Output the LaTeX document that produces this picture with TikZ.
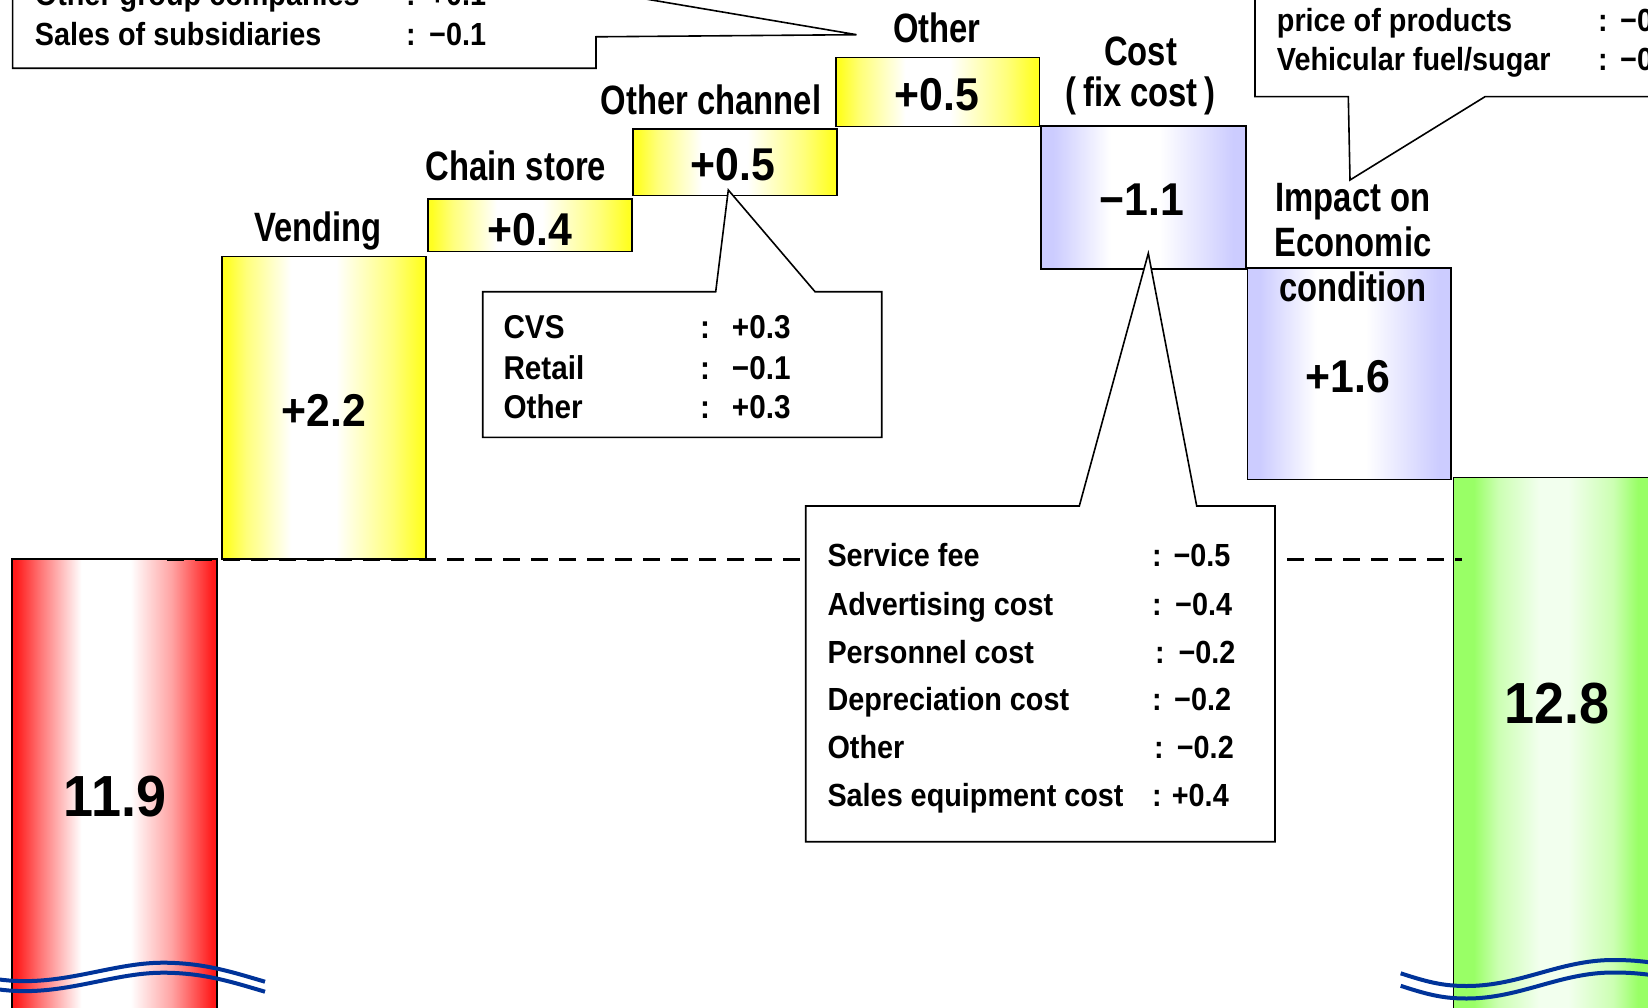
\documentclass[tikz,border=0pt]{standalone}
\usepackage{fontspec}
\setmainfont{Liberation Sans}
\newfontfamily\lblf{Liberation Sans}[FakeStretch=0.80]
\newfontfamily\numf{Liberation Sans}[FakeStretch=0.93]
\newfontfamily\calf{Liberation Sans}[FakeStretch=0.90]
\definecolor{ybar}{HTML}{FFFF22}
\definecolor{rbar}{HTML}{FF1A1A}
\definecolor{bbar}{HTML}{CCCCFF}
\definecolor{gbar}{HTML}{99FF66}
\definecolor{gmid}{HTML}{F2FFEE}
\definecolor{wavec}{HTML}{003399}
\pgfdeclarehorizontalshading{yshade}{100bp}{color(0bp)=(ybar); color(26bp)=(ybar); color(31bp)=(ybar!60!white); color(42bp)=(white); color(53bp)=(white); color(67bp)=(ybar!60!white); color(74bp)=(ybar); color(100bp)=(ybar)}
\pgfdeclarehorizontalshading{rshade}{100bp}{color(0bp)=(rbar); color(26bp)=(rbar); color(32bp)=(rbar!60!white); color(42bp)=(white); color(54bp)=(white); color(64bp)=(rbar!40!white); color(74bp)=(rbar); color(100bp)=(rbar)}
\pgfdeclarehorizontalshading{bshade}{100bp}{color(0bp)=(bbar); color(28bp)=(bbar); color(42bp)=(white); color(54bp)=(white); color(72bp)=(bbar); color(100bp)=(bbar)}
\pgfdeclarehorizontalshading{gshade}{100bp}{color(0bp)=(gbar); color(30bp)=(gbar); color(36bp)=(gbar!50!white); color(46bp)=(gmid); color(53bp)=(gmid); color(64bp)=(gbar!50!white); color(70bp)=(gbar); color(100bp)=(gbar)}
\tikzset{
  bar/.style={draw=black, line width=1.6pt, rectangle, inner sep=0pt, outer sep=0pt, anchor=north west, shade},
  lbl/.style={font=\lblf\bfseries\fontsize{41}{41}\selectfont, anchor=base, inner sep=0pt},
  num/.style={font=\numf\bfseries\fontsize{46}{46}\selectfont, inner sep=0pt},
  big/.style={font=\numf\bfseries\fontsize{58}{58}\selectfont, anchor=base, inner sep=0pt},
  ctxt/.style={font=\calf\bfseries\fontsize{32}{32}\selectfont, anchor=base west, inner sep=0pt},
  ctxtb/.style={font=\calf\bfseries\fontsize{33}{33}\selectfont, anchor=base west, inner sep=0pt},
  callout/.style={draw=black, line width=1.6pt, fill=white, line join=miter},
  baseline dash/.style={draw=black, line width=3pt, dash pattern=on 17pt off 11pt},
  wavy/.style={draw=wavec, line width=4pt}
}
\begin{document}
\begin{tikzpicture}[x=1pt,y=-1pt]
\useasboundingbox (0,0) rectangle (1648,1008);
\clip (0,0) rectangle (1648,1008);
\fill[white] (0,0) rectangle (1648,1008);

% bars
\node[bar, shading=rshade, minimum width=205pt, minimum height=480pt] (red) at (11.7,559) {};
\node[bar, shading=yshade, minimum width=204pt, minimum height=302.3pt] (vend) at (221.7,256.7) {};
\node[bar, shading=yshade, minimum width=204.3pt, minimum height=52.7pt] (chain) at (427.7,199) {};
\node[bar, shading=yshade, minimum width=204pt, minimum height=66.7pt] (och) at (632.7,129) {};
\node[bar, shading=yshade, minimum width=203.3pt, minimum height=69pt] (oth) at (836.2,57.7) {};
\node[bar, shading=bshade, minimum width=204.7pt, minimum height=143.5pt] (cost) at (1041,125.8) {};
\node[bar, shading=bshade, minimum width=203.7pt, minimum height=211pt] (imp) at (1247.3,268.3) {};
\node[bar, shading=gshade, minimum width=205pt, minimum height=560pt] (green) at (1453.3,477.5) {};

% bar values
\node[num] (nvend) at (323.7,410.7) {+2.2};
\node[num] (nchain) at (530,230) {+0.4};
\node[num] (noch) at (733,165) {+0.5};
\node[num] (noth) at (937,95) {+0.5};
\node[num] (ncost) at (1142,200) {−1.1};
\node[num] (nimp) at (1348,376.7) {+1.6};
\node[big] (nred) at (115,816) {11.9};
\node[big] (ngreen) at (1556.7,723.3) {12.8};

% bar labels
\node[lbl] (lvend) at (318,241.7) {Vending};
\node[lbl] (lchain) at (516,181) {Chain store};
\node[lbl] (loch) at (711,115) {Other channel};
\node[lbl] (loth) at (937,43) {Other};
\node[lbl] (lcost) at (1140.5,66) {Cost};
\node[lbl] (lfix) at (1140.5,107) {(\hspace{7pt}fix cost\hspace{7pt})};
\node[lbl] (limp1) at (1353,211.7) {Impact on};
\node[lbl] (limp2) at (1353,256.7) {Economic};
\node[lbl] (limp3) at (1353,301.7) {condition};

% dashed reference line
\coordinate (dl) at (167,559);
\coordinate (dr) at (1462,559);
\draw[baseline dash] (dl) -- (dr);

% callouts
\draw[callout] (482.7,291.7) -- (715.7,291.7) -- (728.3,190) -- (815,291.7) -- (881.7,291.7) -- (881.7,437.3) -- (482.7,437.3) -- cycle;
\draw[callout] (805.7,506) -- (1079.3,506) -- (1148.3,253.3) -- (1196.7,506) -- (1275,506) -- (1275,841.7) -- (805.7,841.7) -- cycle;
\draw[callout] (12.6,-30) -- (12.6,68.3) -- (596,68.3) -- (596,36.8) -- (856.6,34.7) -- (596,-9.4) -- (596,-30) -- cycle;
\draw[callout] (1255,-30) -- (1255,96.7) -- (1348.3,96.7) -- (1350,180) -- (1485,96.7) -- (1680,96.7) -- (1680,-30) -- cycle;

% CVS callout text
\node[ctxtb] (c1) at (503.3,338.3) {CVS};
\node[ctxtb, anchor=base] (c1c) at (705,338.3) {:};
\node[ctxtb] (c1v) at (731.7,338.3) {+0.3};
\node[ctxtb] (c2) at (503.3,379.3) {Retail};
\node[ctxtb, anchor=base] (c2c) at (705,379.3) {:};
\node[ctxtb] (c2v) at (731.7,379.3) {−0.1};
\node[ctxtb] (c3) at (503.3,418.3) {Other};
\node[ctxtb, anchor=base] (c3c) at (705,418.3) {:};
\node[ctxtb] (c3v) at (731.7,418.3) {+0.3};

% cost callout text
\node[ctxt] (k1) at (827.3,566.7) {Service fee};
\node[ctxt, anchor=base] (k1c) at (1157,566.7) {:};
\node[ctxt] (k1v) at (1173.3,566.7) {−0.5};
\node[ctxt] (k2) at (827.3,615) {Advertising cost};
\node[ctxt, anchor=base] (k2c) at (1157,615) {:};
\node[ctxt] (k2v) at (1175,615) {−0.4};
\node[ctxt] (k3) at (827.3,663) {Personnel cost};
\node[ctxt, anchor=base] (k3c) at (1160,663) {:};
\node[ctxt] (k3v) at (1178.3,663) {−0.2};
\node[ctxt] (k4) at (827.3,710.7) {Depreciation cost};
\node[ctxt, anchor=base] (k4c) at (1157,710.7) {:};
\node[ctxt] (k4v) at (1174,710.7) {−0.2};
\node[ctxt] (k5) at (827.3,758) {Other};
\node[ctxt, anchor=base] (k5c) at (1159,758) {:};
\node[ctxt] (k5v) at (1176.7,758) {−0.2};
\node[ctxt] (k6) at (827.3,806.7) {Sales equipment cost};
\node[ctxt, anchor=base] (k6c) at (1157,806.7) {:};
\node[ctxt] (k6v) at (1171.7,806.7) {+0.4};

% top-left callout text
\node[ctxt] (t1) at (34.7,6) {Other group companies};
\node[ctxt, anchor=base] (t1c) at (411,6) {:};
\node[ctxt] (t1v) at (429,6) {+0.1};
\node[ctxt] (t2) at (34.7,45.5) {Sales of subsidiaries};
\node[ctxt, anchor=base] (t2c) at (411,45.5) {:};
\node[ctxt] (t2v) at (429,45.5) {−0.1};

% top-right callout text
\node[ctxt] (r1) at (1276.7,32) {price of products};
\node[ctxt, anchor=base] (r1c) at (1603,32) {:};
\node[ctxt] (r1v) at (1620,32) {−0};
\node[ctxt] (r2) at (1276.7,71) {Vehicular fuel/sugar};
\node[ctxt, anchor=base] (r2c) at (1603,71) {:};
\node[ctxt] (r2v) at (1620,71) {−0};

% break marks
\draw[wavy] (-2,979.3) .. controls (60,988) and (110,962.7) .. (163,962.7) .. controls (205,962.7) and (235,973) .. (265,981.7);
\draw[wavy] (-2,989.3) .. controls (60,998) and (110,972.7) .. (163,972.7) .. controls (205,972.7) and (235,983) .. (265,991.7);
\draw[wavy] (1400.7,973.3) .. controls (1430,983) and (1445,986) .. (1466.7,986) .. controls (1520,986) and (1560,960) .. (1613,960) .. controls (1630,960) and (1640,961) .. (1655,963);
\draw[wavy] (1400.7,985.8) .. controls (1430,995.5) and (1445,998.5) .. (1466.7,998.5) .. controls (1520,998.5) and (1560,972.5) .. (1613,972.5) .. controls (1630,972.5) and (1640,973.5) .. (1655,975.5);
\end{tikzpicture}
\end{document}
